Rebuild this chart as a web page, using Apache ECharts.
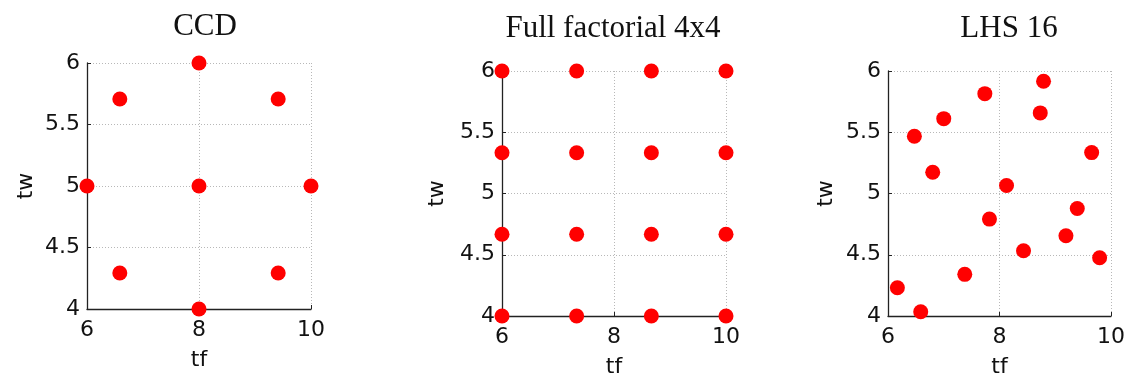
<!DOCTYPE html>
<html>
<head>
<meta charset="utf-8">
<script src="https://cdn.jsdelivr.net/npm/echarts@6/dist/echarts.min.js"></script>
<style>
  html, body { margin: 0; padding: 0; background: #fff; }
  #chart { width: 1128px; height: 378px; }
</style>
</head>
<body>
<div id="chart"></div>
<script>
// Panel titles
const panelTitles = ['CCD', 'Full factorial 4x4', 'LHS 16'];

// Central composite design points (tf, tw)
const ccdTf = [6, 8, 10, 8, 8, 6.586, 9.414, 6.586, 9.414];
const ccdTw = [5, 5, 5, 4, 6, 5.707, 5.707, 4.293, 4.293];

// Full factorial 4x4 levels
const ffTfLevels = [6, 7.333, 8.667, 10];
const ffTwLevels = [4, 4.667, 5.333, 6];

// Latin hypercube sample, 16 points (tf, tw)
const lhsTf = [6.168, 6.587, 6.473, 6.802, 7.0, 7.377, 7.737, 7.820,
               8.126, 8.431, 8.731, 8.790, 9.192, 9.395, 9.653, 9.796];
const lhsTw = [4.231, 4.035, 5.467, 5.174, 5.611, 4.340, 5.815, 4.791,
               5.065, 4.533, 5.658, 5.916, 4.655, 4.878, 5.334, 4.476];

// Axis ranges and tick spacing
const tfRange = [6, 10], tfStep = 2;
const twRange = [4, 6], twStep = 0.5;

const pair = (xs, ys) => xs.map((x, i) => [x, ys[i]]);
const ffPoints = [];
ffTwLevels.forEach(tw => ffTfLevels.forEach(tf => ffPoints.push([tf, tw])));
const panelData = [pair(ccdTf, ccdTw), ffPoints, pair(lhsTf, lhsTw)];

// Fixed plot boxes; labels may run past the canvas edge
const grids = [
  { left: 87, top: 63, width: 224, height: 246, outerBoundsMode: 'none' },
  { left: 502, top: 71, width: 224, height: 245, outerBoundsMode: 'none' },
  { left: 888, top: 71, width: 223, height: 245, outerBoundsMode: 'none' }
];
const titlePos = [
  { x: 205, top: 11 },
  { x: 613, top: 13 },
  { x: 1009, top: 13 }
];
const twGaps = [50, 54, 51];

const sans = 'DejaVu Sans, Arial, sans-serif';
const serif = 'Liberation Serif, Times New Roman, serif';

const axisCommon = {
  type: 'value',
  axisLine: { show: true, lineStyle: { color: '#222', width: 1.3 } },
  axisTick: { show: true, inside: true, length: 4, lineStyle: { color: '#222' } },
  splitLine: { show: true, lineStyle: { color: '#b8b8b8', type: [1, 2], width: 1 } },
  axisLabel: { color: '#111', fontFamily: sans, fontSize: 22 },
  nameTextStyle: { color: '#111', fontFamily: sans, fontSize: 22 }
};

const option = {
  animation: false,
  backgroundColor: '#fff',
  title: panelTitles.map((t, i) => ({
    text: t,
    left: titlePos[i].x,
    top: titlePos[i].top,
    textAlign: 'center',
    padding: 0,
    textStyle: { fontFamily: serif, fontSize: 31, fontWeight: 'normal', color: '#111' }
  })),
  grid: grids,
  xAxis: grids.map((g, i) => Object.assign({}, axisCommon, {
    gridIndex: i,
    min: tfRange[0], max: tfRange[1], interval: tfStep,
    name: 'tf', nameLocation: 'middle', nameGap: 40,
    axisLabel: Object.assign({}, axisCommon.axisLabel, { margin: 10 })
  })),
  yAxis: grids.map((g, i) => Object.assign({}, axisCommon, {
    gridIndex: i,
    min: twRange[0], max: twRange[1], interval: twStep,
    name: 'tw', nameLocation: 'middle', nameGap: twGaps[i],
    axisLabel: Object.assign({}, axisCommon.axisLabel, { margin: 7 })
  })),
  series: panelData.map((d, i) => ({
    type: 'scatter',
    xAxisIndex: i,
    yAxisIndex: i,
    data: d,
    clip: false,
    symbol: 'circle',
    symbolSize: 15,
    itemStyle: { color: '#ff0000', opacity: 1 }
  }))
};

const chart = echarts.init(document.getElementById('chart'), null, { renderer: 'canvas' });
chart.setOption(option);
</script>
</body>
</html>
